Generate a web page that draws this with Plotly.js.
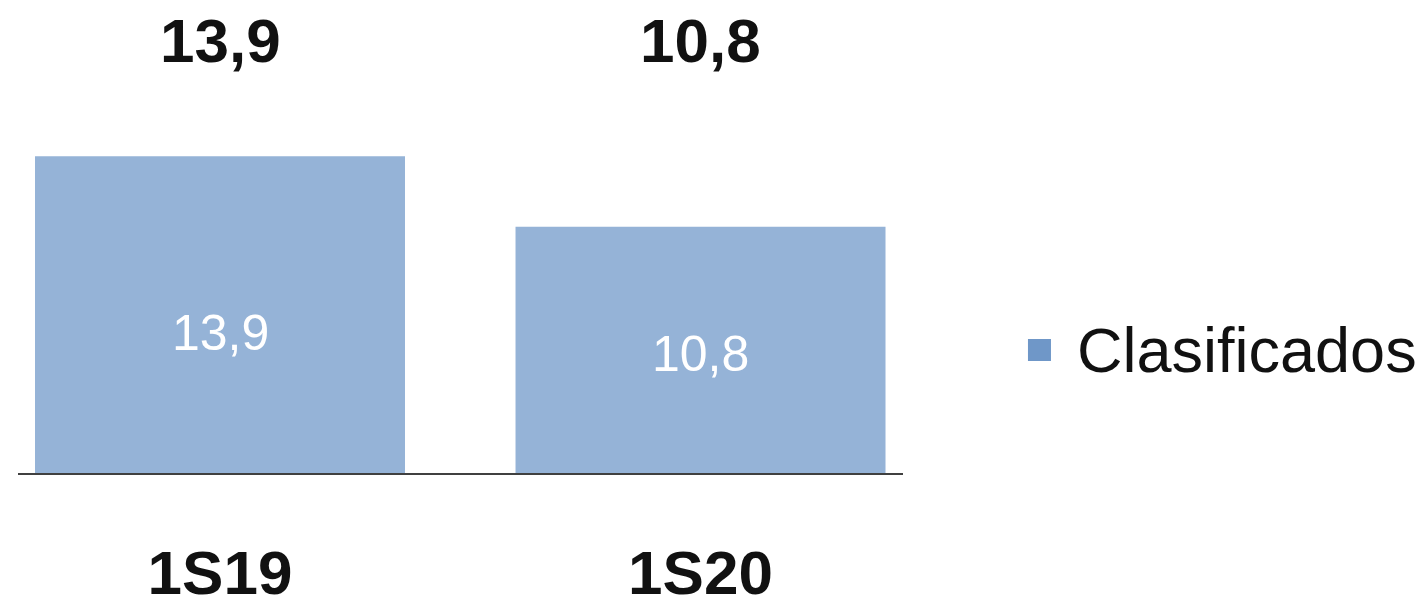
<!DOCTYPE html>
<html>
<head>
<meta charset="utf-8">
<script src="https://cdn.plot.ly/plotly-3.0.1.min.js"></script>
<style>html,body{margin:0;padding:0;background:#fff;}#chart{width:1427px;height:603px;}</style>
</head>
<body>
<div id="chart"></div>
<script>
const categories = ["1S19", "1S20"];
const clasificados = [13.9, 10.8];
const seriesName = "Clasificados";

function fmt(v) { return v.toFixed(1).replace(".", ","); }

const FONT = "Liberation Sans, Arial, sans-serif";
const innerLabelShift = [-18, -4];

const trace = {
  type: "bar",
  x: categories,
  y: clasificados,
  name: seriesName,
  width: 0.77,
  marker: { color: "#95B3D7", line: { width: 0 } },
  hoverinfo: "skip",
  showlegend: false
};

const topLabels = categories.map((c, i) => ({
  x: c, xref: "x", y: 0.9154, yref: "paper",
  text: "<b>" + fmt(clasificados[i]) + "</b>",
  showarrow: false, xanchor: "center", yanchor: "middle",
  font: { size: 62, color: "#111111", family: FONT }
}));

const innerLabels = categories.map((c, i) => ({
  x: c, xref: "x", y: clasificados[i] / 2, yref: "y",
  yshift: innerLabelShift[i],
  text: fmt(clasificados[i]),
  showarrow: false, xanchor: "center", yanchor: "middle",
  font: { size: 50, color: "#ffffff", family: FONT }
}));

const legendLabel = {
  x: 1.1944, xref: "paper", y: 0.259, yref: "paper",
  text: seriesName, showarrow: false, xanchor: "left", yanchor: "middle",
  font: { size: 63, color: "#111111", family: FONT }
};

const layout = {
  width: 1427, height: 603,
  margin: { l: 18, r: 524, t: 0, b: 130, pad: 0 },
  paper_bgcolor: "#ffffff", plot_bgcolor: "#ffffff",
  showlegend: false,
  xaxis: {
    type: "category",
    range: [-0.4204, 1.4214],
    showline: true, linecolor: "#404040", linewidth: 1.5,
    showgrid: false, zeroline: false, ticks: "",
    tickfont: { size: 62, color: "#111111", family: FONT, weight: "bold" },
    ticklabelstandoff: 45,
    fixedrange: true
  },
  yaxis: {
    range: [0, 20.75],
    visible: false, showgrid: false, zeroline: false,
    fixedrange: true
  },
  annotations: topLabels.concat(innerLabels, [legendLabel]),
  shapes: [{
    type: "rect", xref: "paper", yref: "paper",
    x0: 1.1412, x1: 1.1672, y0: 0.2368, y1: 0.2833,
    fillcolor: "#6F97C8", line: { width: 0 }
  }]
};

Plotly.newPlot("chart", [trace], layout, { displayModeBar: false, staticPlot: true });
</script>
</body>
</html>
